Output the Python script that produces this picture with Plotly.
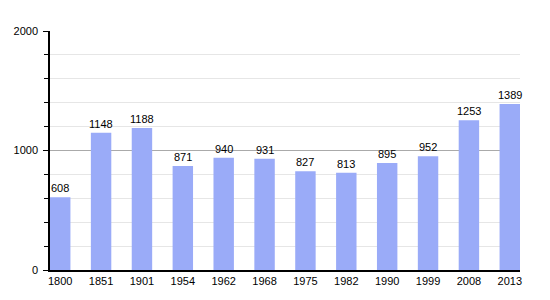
import plotly.graph_objects as go

years = ["1800", "1851", "1901", "1954", "1962", "1968", "1975", "1982", "1990", "1999", "2008", "2013"]
population = [608, 1148, 1188, 871, 940, 931, 827, 813, 895, 952, 1253, 1389]

FONT = "Liberation Sans, Arial, sans-serif"

fig = go.Figure()
fig.add_trace(go.Bar(
    x=years, y=population,
    marker=dict(color="#9aabf8", line=dict(width=0)),
    width=0.5,
    hoverinfo="x+y",
))
for i, v in enumerate(population):
    fig.add_annotation(
        x=i, y=v, text=str(v), showarrow=False,
        xref="x", yref="y",
        yanchor="bottom", yshift=1,
        font=dict(size=11, color="black", family=FONT),
    )
fig.update_layout(
    width=550, height=300,
    margin=dict(l=50, r=30, t=31, b=30),
    paper_bgcolor="white", plot_bgcolor="white",
    showlegend=False,
    font=dict(family=FONT, size=11, color="black"),
)
fig.update_xaxes(
    type="category", range=[-0.25, 11.25],
    showline=True, linecolor="black", linewidth=1.5,
    ticks="", showgrid=False, tickfont=dict(size=11),
)
fig.update_yaxes(
    range=[0, 2000], tickvals=[0, 1000, 2000],
    showline=True, linecolor="black", linewidth=1.5,
    ticks="outside", ticklen=5, tickcolor="black",
    ticklabelstandoff=3,
    showgrid=True, gridcolor="#aaaaaa", gridwidth=1,
    minor=dict(dtick=200, showgrid=True, gridcolor="#e6e6e6", ticks="outside", ticklen=4, tickcolor="black"),
    zeroline=False, tickfont=dict(size=11),
)
fig.write_html("out.html")
